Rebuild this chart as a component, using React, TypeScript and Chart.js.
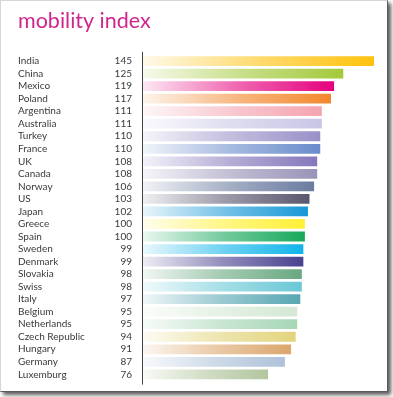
import React, { useEffect, useRef } from "react";
import { Chart, registerables } from "chart.js";

Chart.register(...registerables);

const countries = [
  "India", "China", "Mexico", "Poland", "Argentina", "Australia", "Turkey", "France", "UK",
  "Canada", "Norway", "US", "Japan", "Greece", "Spain", "Sweden", "Denmark", "Slovakia",
  "Swiss", "Italy", "Belgium", "Netherlands", "Czech Republic", "Hungary", "Germany", "Luxemburg",
];

const values = [
  145, 125, 119, 117, 111, 111, 110, 110, 108, 108, 106, 103, 102, 100, 100, 99, 99, 98, 98, 97,
  95, 95, 94, 91, 87, 76,
];

const barColors = [
  "#ffc20e", "#a3c93a", "#e5007d", "#f2872c", "#f4a4b0", "#c8c6e6", "#9a90c8", "#6a8ccb",
  "#8677bb", "#9a93b8", "#6a7b9f", "#5a566e", "#1798d6", "#fff035", "#16a85a", "#10b4ea",
  "#48418f", "#68a880", "#6ac8d6", "#58a6b2", "#d4e8d4", "#a6d6b6", "#e2d47c", "#dca66c",
  "#aec2da", "#b2c69e",
];

const TITLE = "mobility index";
const AXIS_MIN = -5.4;
const AXIS_MAX = 146.3;

const FONT = "Lato";
const TEXT_COLOR = "#3a3a3a";

const axisLinePlugin = {
  id: "axisLine",
  afterDatasetsDraw(chart: any) {
    const { ctx, chartArea } = chart;
    const x = Math.round(chartArea.left) - 0.5;
    ctx.save();
    ctx.strokeStyle = "#444";
    ctx.lineWidth = 1;
    ctx.beginPath();
    ctx.moveTo(x, chartArea.top - 3);
    ctx.lineTo(x, chartArea.bottom + 4);
    ctx.stroke();
    ctx.restore();
  },
};

export default function App() {
  const ref = useRef<HTMLCanvasElement | null>(null);

  useEffect(() => {
    if (!ref.current) return;
    const chart = new Chart(ref.current, {
      type: "bar",
      data: {
        labels: countries,
        datasets: [
          {
            data: values,
            base: AXIS_MIN,
            yAxisID: "y",
            xAxisID: "x",
            barPercentage: 0.78,
            categoryPercentage: 1,
            borderWidth: 0,
            backgroundColor: (ctx: any) => {
              const color = barColors[ctx.dataIndex] || "#999";
              const chart = ctx.chart;
              const area = chart.chartArea;
              if (!area || !chart.scales.x) return color;
              const x1 = chart.scales.x.getPixelForValue(values[ctx.dataIndex]);
              const g = chart.ctx.createLinearGradient(area.left, 0, x1, 0);
              g.addColorStop(0, color + "18");
              g.addColorStop(0.5, color + "99");
              g.addColorStop(1, color);
              return g;
            },
          } as any,
        ],
      },
      plugins: [axisLinePlugin],
      options: {
        indexAxis: "y",
        animation: false,
        responsive: false,
        layout: { padding: { left: 17, right: 11, top: 0, bottom: 10.4 } },
        plugins: {
          legend: { display: false },
          tooltip: { enabled: false },
          title: {
            display: true,
            text: TITLE,
            align: "start",
            color: "#d0258e",
            font: { family: FONT, size: 21.5, weight: "normal", lineHeight: 1.2 },
            padding: { top: 7, bottom: 21 },
          },
        },
        scales: {
          x: {
            type: "linear",
            display: false,
            min: AXIS_MIN,
            max: AXIS_MAX,
          },
          y: {
            type: "category",
            position: "left",
            weight: 1,
            offset: true,
            grid: { display: false, drawTicks: false },
            border: { display: false },
            ticks: {
              crossAlign: "far",
              padding: 0,
              color: TEXT_COLOR,
              font: { family: FONT, size: 10 },
              autoSkip: false,
            },
            afterFit: (s: any) => {
              s.width = 85;
              s.paddingTop = 0;
              s.paddingBottom = 0;
            },
          },
          yv: {
            type: "category",
            axis: "y",
            position: "left",
            weight: 0,
            offset: true,
            labels: values.map(String),
            grid: { display: false, drawTicks: false },
            border: { display: false },
            ticks: {
              crossAlign: "near",
              padding: 11,
              color: TEXT_COLOR,
              font: { family: FONT, size: 10 },
              autoSkip: false,
            },
            afterFit: (s: any) => {
              s.width = 40;
              s.paddingTop = 0;
              s.paddingBottom = 0;
            },
          } as any,
        },
      },
    });
    return () => chart.destroy();
  }, []);

  return (
    <div
      style={{
        position: "absolute",
        left: 0,
        top: 0,
        width: 388,
        height: 392,
        boxSizing: "border-box",
        borderStyle: "solid",
        borderWidth: 1,
        borderColor: "#d6d6d6 #5a5a5a #5a5a5a #d6d6d6",
        boxShadow: "3px 3px 4px rgba(0,0,0,0.65)",
        background: "#fff",
      }}
    >
      <canvas ref={ref} width={386} height={390} style={{ display: "block" }} />
    </div>
  );
}
